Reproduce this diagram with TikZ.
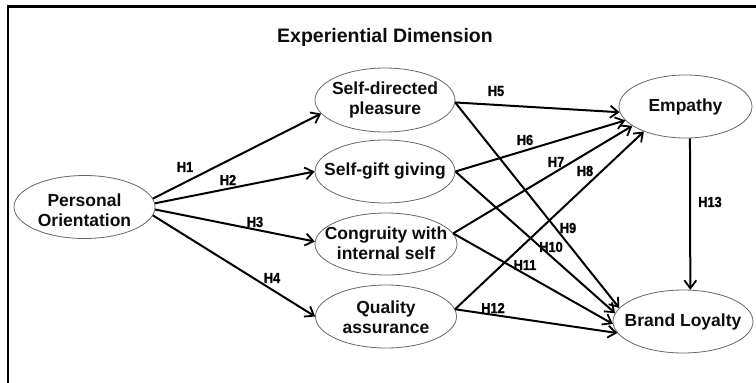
\documentclass[tikz,border=0pt]{standalone}
\usepackage{fontspec}
\setmainfont{Liberation Sans}
\newfontfamily\hlab[FakeStretch=0.88,FakeBold=1.2]{Liberation Sans}
\usetikzlibrary{shapes.geometric,arrows.meta}
\begin{document}
\begin{tikzpicture}[x=1pt,y=-1pt,
  ell/.style={ellipse,draw=black!60,line width=0.8pt,inner sep=0pt,minimum width=141pt,minimum height=63pt},
  etxt/.style={align=center,font=\fontsize{17.5}{20}\selectfont\bfseries,inner sep=0pt,text=black!95},
  ttl/.style={font=\fontsize{19.5}{22}\selectfont\bfseries,inner sep=0pt,text=black!95},
  hyp/.style={font=\hlab\fontsize{14.5}{14.5}\selectfont\bfseries,inner sep=0pt,text=black},
  arr/.style={line width=2pt,-{Straight Barb[length=8pt,width=12pt,line width=1.8pt]}}
]
\useasboundingbox (0,0) rectangle (756,383);
% frame
\draw[line width=2.6pt] (8,383) -- (8,6.5) -- (756,6.5);

\node[ttl] (title) at (385,37) {Experiential Dimension};

% ellipses
\node[ell] (po)  at (84.5,207) {};
\node[ell,minimum width=140pt,minimum height=64pt] (sdp) at (385,100) {};
\node[ell,minimum width=140pt] (sgg) at (385,171.5) {};
\node[ell,minimum width=142pt,minimum height=62pt] (cis) at (386,244) {};
\node[ell] (qa)  at (386,316.5) {};
\node[ell,minimum width=133pt] (emp) at (685.5,106.5) {};
\node[ell,minimum width=140pt] (bl)  at (683,321.5) {};

% texts
\node[etxt] (pot)  at (84.5,210) {Personal\\Orientation};
\node[etxt] (sdpt) at (385,100) {Self-directed\\pleasure};
\node[etxt] (sggt) at (385,171.5) {Self-gift giving};
\node[etxt] (cist) at (386,243) {Congruity with\\internal self};
\node[etxt] (qat)  at (386,317) {Quality\\assurance};
\node[etxt] (empt) at (685.5,107) {Empathy};
\node[etxt] (blt)  at (683,322) {Brand Loyalty};

% arrows
\draw[arr] (po.7.6) -- (sdp.192.4);
\draw[arr] (po.3.2) -- (sgg.180);
\draw[arr] (po.-2.4) -- (cis.178.4);
\draw[arr] (po.-7.3) -- (qa.180);

\draw[arr] (sdp.-2) -- (emp.185.4);
\draw[arr] (sgg.0) -- (emp.193.9);
\draw[arr] (cis.9) -- (emp.200.2);
\draw[arr] (qa.6.2) -- (emp.211.1);

\draw[arr] (sdp.-2) -- (bl.168.4);
\draw[arr] (sgg.0) -- (bl.173.3);
\draw[arr] (cis.9) -- (bl.182.8);
\draw[arr] (qa.6.2) -- (bl.190.6);

\draw[arr] (emp.-82) -- (bl.77.5);

% labels
\node[hyp] (h1)  at (185,167) {H1};
\node[hyp] (h2)  at (228,180) {H2};
\node[hyp] (h3)  at (255,222) {H3};
\node[hyp] (h4)  at (272,278) {H4};
\node[hyp] (h5)  at (496,91) {H5};
\node[hyp] (h6)  at (525,140) {H6};
\node[hyp] (h7)  at (556,162) {H7};
\node[hyp] (h8)  at (585,171) {H8};
\node[hyp] (h9)  at (568,228) {H9};
\node[hyp] (h10) at (551,247) {H10};
\node[hyp] (h11) at (525,265) {H11};
\node[hyp] (h12) at (493,308) {H12};
\node[hyp] (h13) at (710,202) {H13};
\end{tikzpicture}
\end{document}
